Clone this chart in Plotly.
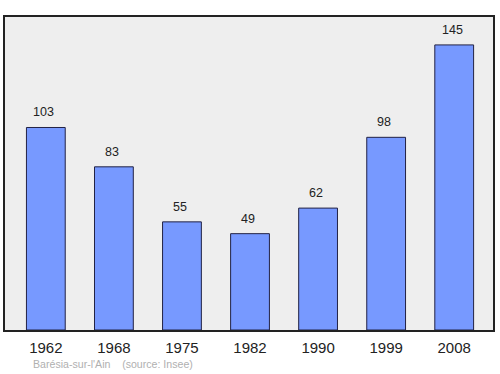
import plotly.graph_objects as go

years = ["1962", "1968", "1975", "1982", "1990", "1999", "2008"]
population = [103, 83, 55, 49, 62, 98, 145]
footer = "Barésia-sur-l'Ain    (source: Insee)"

fig = go.Figure()
fig.add_trace(go.Bar(
    x=list(range(len(years))), y=population,
    width=0.57,
    marker=dict(color="#7799ff", line=dict(color="#222244", width=1)),
    hoverinfo="skip",
))

for i, v in enumerate(population):
    fig.add_annotation(x=i, y=v, text=str(v), showarrow=False,
                       yanchor="bottom", yshift=6, xshift=-2,
                       font=dict(family="Liberation Sans, Arial", size=12.5, color="#222222"))

fig.add_annotation(xref="paper", yref="paper", x=0.053, y=-0.109,
                   xanchor="left", yanchor="middle", text=footer, showarrow=False,
                   font=dict(family="Liberation Sans, Arial", size=10.6, color="#b0b0b0"))

fig.update_layout(
    width=500, height=374,
    margin=dict(l=5, r=5, t=17, b=44),
    paper_bgcolor="white", plot_bgcolor="#eeeeee",
    showlegend=False,
    xaxis=dict(range=[-0.6, 6.57], tickmode="array", tickvals=list(range(len(years))),
               ticktext=years, showgrid=False, zeroline=False,
               showline=True, linecolor="#222222", linewidth=1.5, mirror=True,
               ticks="outside", ticklen=3, tickcolor="rgba(0,0,0,0)",
               tickfont=dict(family="Liberation Sans, Arial", size=15, color="#222222")),
    yaxis=dict(range=[0, 159.2], showgrid=False, zeroline=False, showticklabels=False,
               showline=True, linecolor="#222222", linewidth=1.5, mirror=True),
)

fig.write_html("out.html")
